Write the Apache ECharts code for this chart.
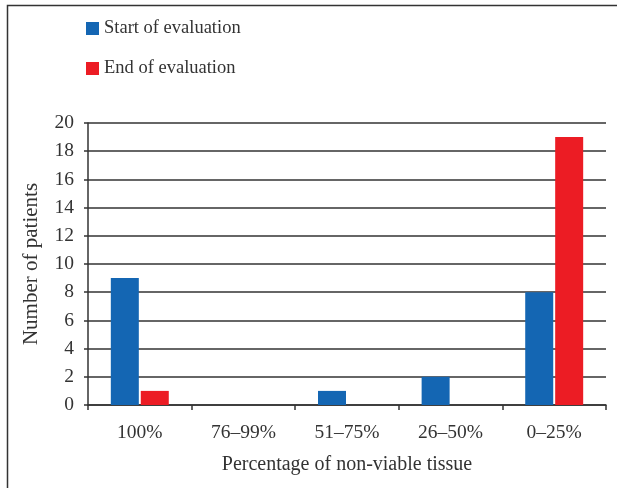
<!DOCTYPE html>
<html>
<head>
<meta charset="utf-8">
<script src="https://cdn.jsdelivr.net/npm/echarts@6/dist/echarts.min.js"></script>
<style>
  html, body { margin: 0; padding: 0; background: #fff; }
  #main { width: 617px; height: 488px; }
</style>
</head>
<body>
<div id="main"></div>
<script>
  // categories and counts
  let categories = ['100%', '76\u201399%', '51\u201375%', '26\u201350%', '0\u201325%'];
  let startValues = [9, 0, 1, 2, 8];
  let endValues = [1, 0, 0, 0, 19];
  let yTicks = { min: 0, max: 20, interval: 2 };

  let font = 'Liberation Serif';
  let myChart = echarts.init(document.getElementById('main'));
  myChart.setOption({
    animation: false,
    textStyle: { fontFamily: font },
    graphic: [{
      type: 'rect',
      shape: { x: 7.5, y: 5.5, width: 700, height: 600 },
      style: { fill: 'none', stroke: '#333', lineWidth: 1.5 }
    }],
    legend: {
      orient: 'vertical',
      left: 81,
      top: 14,
      itemWidth: 13,
      itemHeight: 13,
      itemGap: 21,
      itemTextGap: 8,
      icon: 'rect',
      textStyle: { fontFamily: font, fontSize: 18.5, color: '#333' },
      data: ['Start of evaluation', 'End of evaluation']
    },
    grid: { left: 88, right: 11, top: 123, bottom: 83, containLabel: false },
    xAxis: {
      type: 'category',
      data: categories,
      name: 'Percentage of non-viable tissue',
      nameLocation: 'middle',
      nameGap: 50,
      nameTextStyle: { fontFamily: font, fontSize: 20, color: '#333' },
      axisLine: { lineStyle: { color: '#333', width: 1.5 } },
      axisTick: { show: true, length: 5, lineStyle: { color: '#333', width: 1.5 } },
      axisLabel: { fontFamily: font, fontSize: 19.5, color: '#333', margin: 18 }
    },
    yAxis: {
      type: 'value',
      min: yTicks.min,
      max: yTicks.max,
      interval: yTicks.interval,
      name: 'Number of patients',
      nameLocation: 'middle',
      nameGap: 46,
      nameTextStyle: { fontFamily: font, fontSize: 21, color: '#333' },
      axisLine: { show: true, lineStyle: { color: '#333', width: 1.5 } },
      axisTick: { show: true, length: 4, lineStyle: { color: '#333', width: 1.5 } },
      axisLabel: { fontFamily: font, fontSize: 19.5, color: '#333', margin: 14 },
      splitLine: { lineStyle: { color: '#333', width: 1.5 } }
    },
    series: [{
      name: 'Start of evaluation',
      type: 'bar',
      data: startValues,
      barWidth: 28,
      barGap: '7%',
      itemStyle: { color: '#1466b3' }
    }, {
      name: 'End of evaluation',
      type: 'bar',
      data: endValues,
      barWidth: 28,
      itemStyle: { color: '#ec1c24' }
    }]
  });
</script>
</body>
</html>
